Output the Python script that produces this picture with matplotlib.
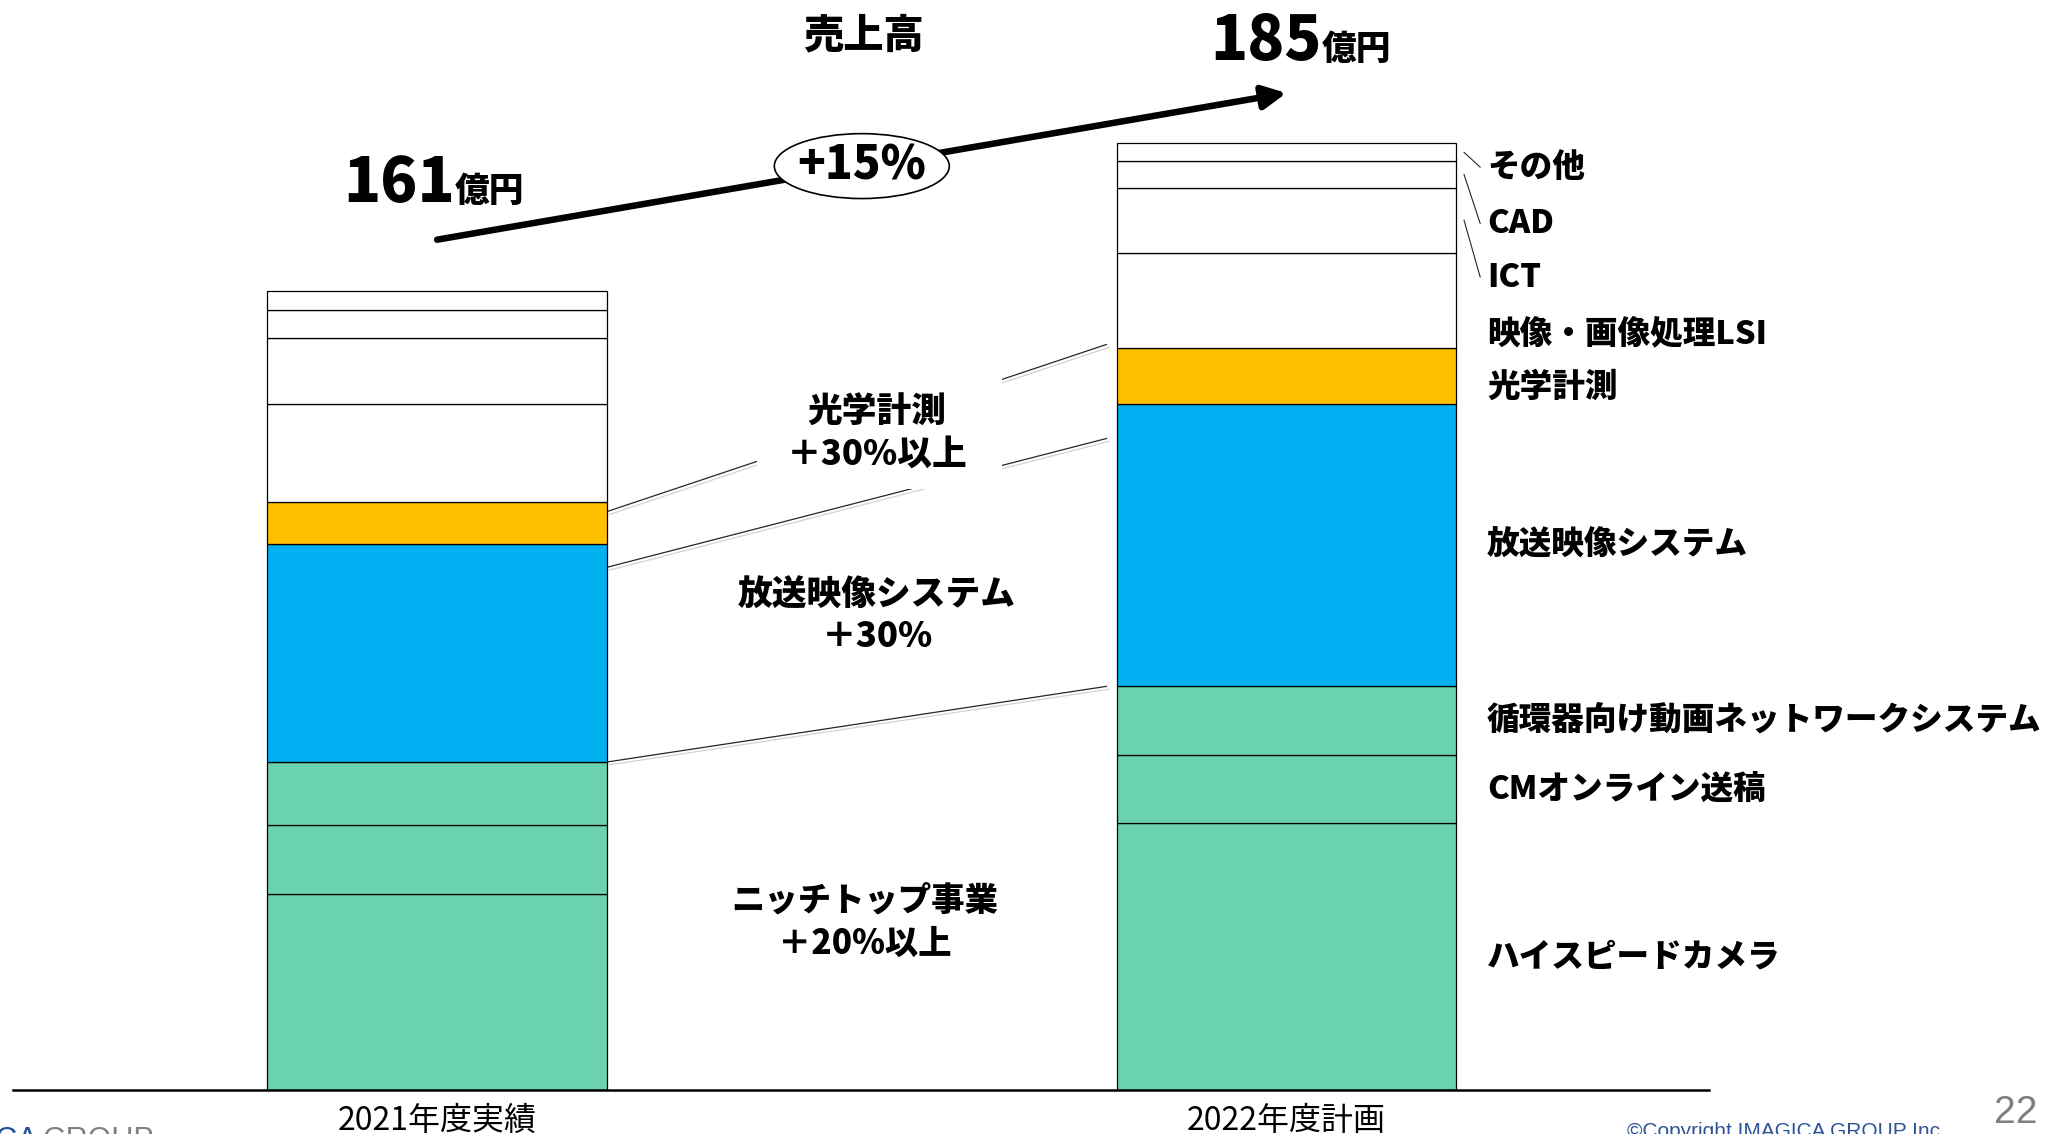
import numpy as np
import matplotlib
matplotlib.use('Agg')
import matplotlib.pyplot as plt
import matplotlib.patheffects as pe
from matplotlib.patches import Ellipse, Rectangle

plt.rcParams['font.family'] = ['Noto Sans CJK JP', 'DejaVu Sans']

# data (億円)
years = ['2021年度実績', '2022年度計画']
segments = ['ハイスピードカメラ', 'CMオンライン送稿', '循環器向け動画ネットワークシステム',
            '放送映像システム', '光学計測', '映像・画像処理LSI', 'ICT', 'CAD', 'その他']
v2021 = [38.3, 13.5, 12.3, 42.6, 8.2, 19.2, 13.0, 5.4, 3.8]
v2022 = [52.1, 13.3, 13.5, 55.2, 11.0, 18.6, 12.8, 5.1, 3.6]
colors = ['#6AD2AE', '#6AD2AE', '#6AD2AE', '#00B0F0', '#FFC000',
          'white', 'white', 'white', 'white']
totals = [161, 185]
growth = '+15%'
callouts = ['光学計測\n＋30%以上', '放送映像システム\n＋30%', 'ニッチトップ事業\n＋20%以上']

W, H = 2046, 1134
fig = plt.figure(figsize=(W / 100, H / 100), dpi=100)
ax = fig.add_axes([13 / W, 1 - 1089.6 / H, (1709 - 13) / W, 1089.6 / H])

x = np.arange(len(years))
vals = np.array([v2021, v2022])
bottoms = np.zeros(len(years))
for i, name in enumerate(segments):
    ax.bar(x, vals[:, i], 0.4, bottom=bottoms, color=colors[i],
           edgecolor='black', linewidth=0.9, zorder=3)
    bottoms += vals[:, i]

ax.set_xlim(-0.4993, 1.4974)
ax.set_ylim(0, 213.2)
for s in ['left', 'right', 'top']:
    ax.spines[s].set_visible(False)
ax.spines['bottom'].set_linewidth(1.8)
ax.spines['bottom'].set_zorder(4)
ax.set_yticks([])
ax.set_xticks(x, years)
ax.tick_params(axis='x', length=0, pad=11, labelsize=23)

c21 = np.cumsum(v2021)
c22 = np.cumsum(v2022)

# connector lines between the bars
shadow = [pe.SimpleLineShadow(offset=(2, -2), shadow_color='gray', alpha=0.35), pe.Normal()]
conn = [(c21[2], c22[2]), (c21[3] - 4.5, c22[3] - 6.7), (c21[4] - 1.8, c22[4] + 0.7)]
for y0, y1 in conn:
    ax.plot([0.2, 0.788], [y0, y1], color='#262626', lw=0.9, zorder=2,
            path_effects=shadow)

# callout texts
ax.add_patch(Rectangle((0.377, 117.5), 0.288, 23, facecolor='white',
                       edgecolor='none', zorder=2.5))
ax.text(0.518, 128.5, callouts[0], ha='center', va='center', fontsize=25,
        fontweight='heavy', linespacing=1.25, zorder=6)
ax.text(0.518, 92.7, callouts[1], ha='center', va='center', fontsize=25,
        fontweight='heavy', linespacing=1.25, zorder=6)
ax.text(0.503, 32.9, callouts[2], ha='center', va='center', fontsize=24,
        fontweight='heavy', linespacing=1.3, zorder=6)

# segment labels on the right
label_y = [(c22[i] - v2022[i] / 2) for i in range(4)] + [137.5, 148, 159, 169.5, 180.5]
for i, name in enumerate(segments):
    ax.text(1.236, label_y[i], name, ha='left', va='center', fontsize=23.5,
            fontweight='heavy')
for i in [6, 7, 8]:
    ax.plot([1.209, 1.228], [c22[i] - v2022[i] / 2, label_y[i]], color='#262626',
            lw=0.8, clip_on=False)

# sales growth arrow
ax.annotate('', xy=(1, totals[1] + 10), xytext=(0, c21[-1] + 10),
            arrowprops=dict(arrowstyle='-|>,head_length=0.7,head_width=0.35',
                            lw=4.7, color='black', shrinkA=0, shrinkB=0,
                            mutation_scale=20), zorder=4)
ax.add_patch(Ellipse((0.5, 180.7), 0.206, 12.7, facecolor='white',
                     edgecolor='black', lw=1.2, zorder=5))
ax.text(0.5, 180.7, growth, ha='center', va='center', fontsize=33,
        fontweight='heavy', zorder=6)
ax.text(0.502, 206.2, '売上高', ha='center', va='center', fontsize=29,
        fontweight='heavy')
for xi, yb, t in [(0.021, 173.7, totals[0]), (1.041, 201.5, totals[1])]:
    ax.text(xi, yb, str(t), ha='right', va='baseline', fontsize=44, fontweight='heavy')
    ax.text(xi, yb, '億円', ha='left', va='baseline', fontsize=25, fontweight='heavy')

# footer
fig.text(1627 / W, 1 - 1122 / H, '©Copyright IMAGICA GROUP Inc.', fontsize=15,
         color='#2F5597', va='top', family=['Liberation Sans', 'DejaVu Sans'])
fig.text(2016 / W, 1 - 1113 / H, '22', ha='center', va='center', fontsize=28,
         color='#7F7F7F', family=['Liberation Sans Narrow', 'Liberation Sans'])
fig.text(38 / W, 1 - 1149 / H, 'IMAGICA', ha='right', va='baseline', fontsize=22,
         color='#1F4E9A', family=['Liberation Sans', 'DejaVu Sans'])
fig.text(42 / W, 1 - 1149 / H, 'GROUP', ha='left', va='baseline', fontsize=22,
         color='#808080', family=['Liberation Sans', 'DejaVu Sans'])

fig.savefig('out.png', dpi=100)
